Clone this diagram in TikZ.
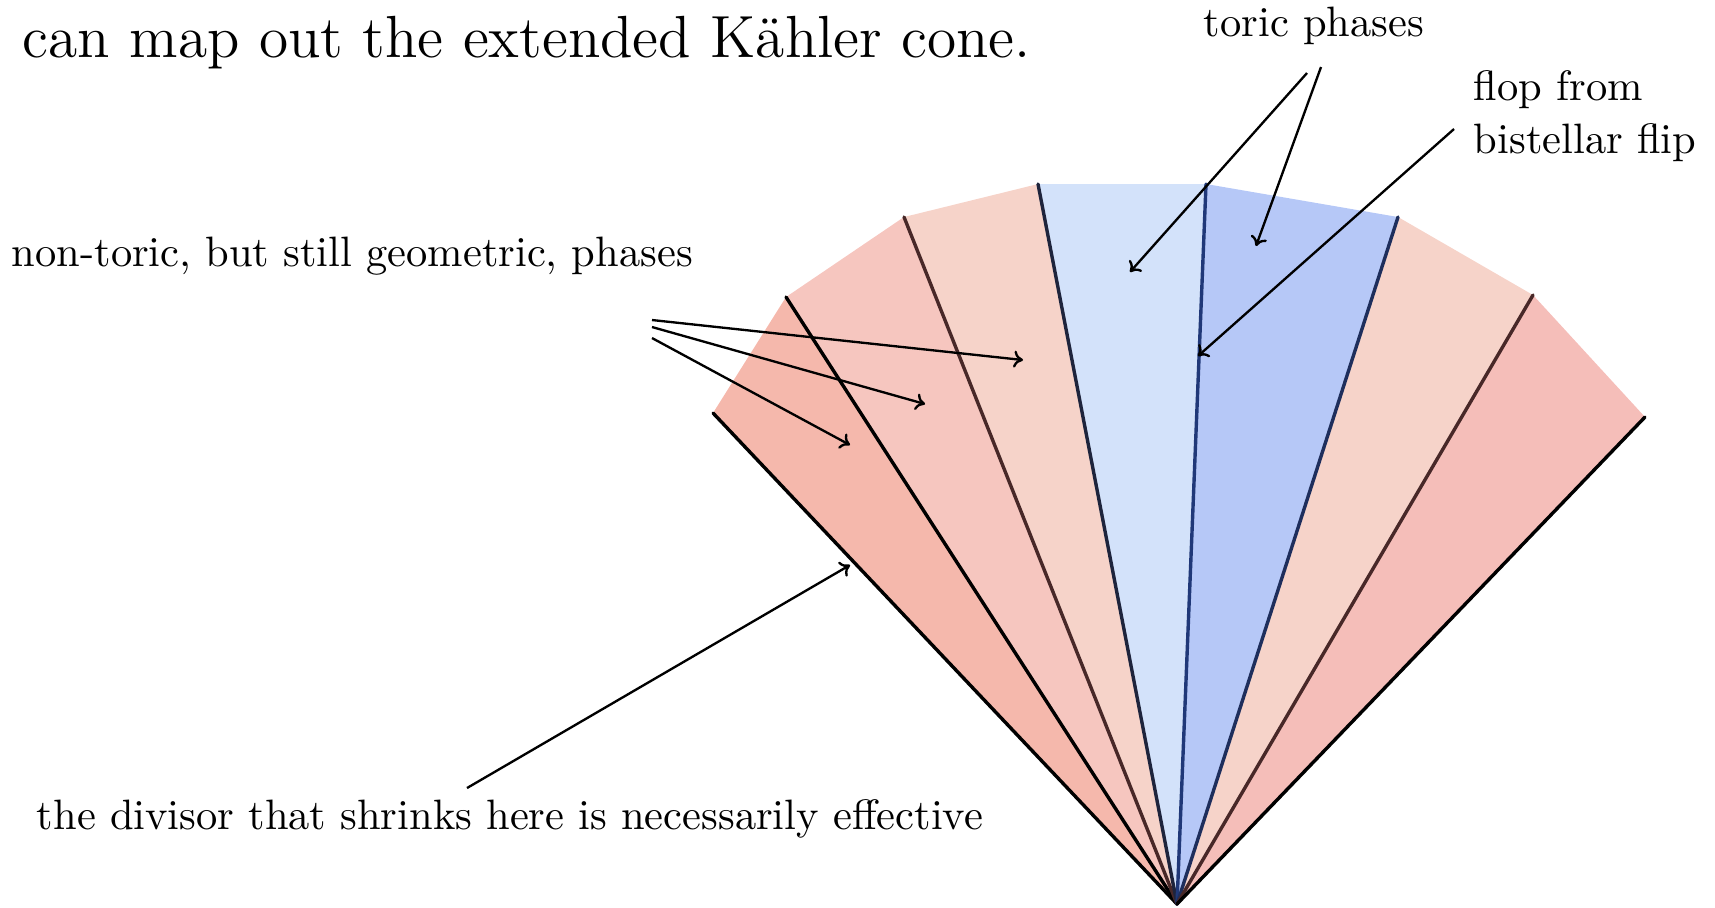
\documentclass[tikz,border=0pt]{standalone}
\usetikzlibrary{arrows.meta}

\definecolor{secA}{RGB}{245,184,172}
\definecolor{secB}{RGB}{246,198,191}
\definecolor{secC}{RGB}{246,211,201}
\definecolor{secD}{RGB}{211,226,250}
\definecolor{secE}{RGB}{182,200,247}
\definecolor{secF}{RGB}{246,211,201}
\definecolor{secG}{RGB}{245,190,185}
\definecolor{rayBrown}{RGB}{72,40,40}
\definecolor{rayDark}{RGB}{30,36,60}
\definecolor{rayNavy}{RGB}{32,56,120}
\definecolor{rayBlue}{RGB}{30,46,92}

\begin{document}
\begin{tikzpicture}[x=0.2353pt,y=-0.2353pt,
  lbl/.style={inner sep=0pt,anchor=base west,font=\normalsize},
  arr/.style={-{To[length=2.2pt,width=4pt]},line width=0.55pt},
  ray/.style={line width=0.8pt,line cap=round}]
\useasboundingbox (0,0) rectangle (1715,907);
% fan of phases
\coordinate (o) at (1177,904);
\foreach \n/\x/\y in {1/713/413,2/786/297,3/904/217,4/1038/184,5/1206/184,6/1398/217,7/1533/295,8/1645/417}
  \coordinate (r\n) at (\x,\y);
\foreach \a/\b/\c in {1/2/secA,2/3/secB,3/4/secC,4/5/secD,5/6/secE,6/7/secF,7/8/secG}
  \fill[\c] (o) -- (r\a) -- (r\b) -- cycle;
\foreach \n/\c in {1/black,2/black,3/rayBrown,4/rayDark,5/rayNavy,6/rayBlue,7/rayBrown,8/black}
  \draw[ray,\c] (o) -- (r\n);
% labels
\node[lbl,font=\fontsize{14}{16}\selectfont] (title) at (22,57) {can map out the extended Kähler cone.};
\node[lbl] (toric) at (1203,36) {toric phases};
\node[lbl,align=left] (flop) at (1473,153) {flop from\\[0.3pt]bistellar flip};
\node[lbl] (nontoric) at (11,266) {non-toric, but still geometric, phases};
\node[lbl] (divisor) at (36,829) {the divisor that shrinks here is necessarily effective};
% pointers
\coordinate (toricA) at (1307,73);
\coordinate (toricB) at (1321,67);
\coordinate (flopS) at (1454,129);
\coordinate (ntA) at (652,320);
\coordinate (ntB) at (652,327);
\coordinate (ntC) at (652,338);
\coordinate (divS) at (467,788);
\coordinate (ph1) at (850,445);
\coordinate (ph2) at (925,404);
\coordinate (ph3) at (1023,360);
\coordinate (ph4) at (1130,272);
\coordinate (ph5) at (1256,246);
\coordinate (wall5) at (1198,356);
\coordinate (wall1) at (850,565);
\draw[arr] (toricA) -- (ph4);
\draw[arr] (toricB) -- (ph5);
\draw[arr] (flopS) -- (wall5);
\draw[arr] (ntA) -- (ph3);
\draw[arr] (ntB) -- (ph2);
\draw[arr] (ntC) -- (ph1);
\draw[arr] (divS) -- (wall1);
\end{tikzpicture}
\end{document}
